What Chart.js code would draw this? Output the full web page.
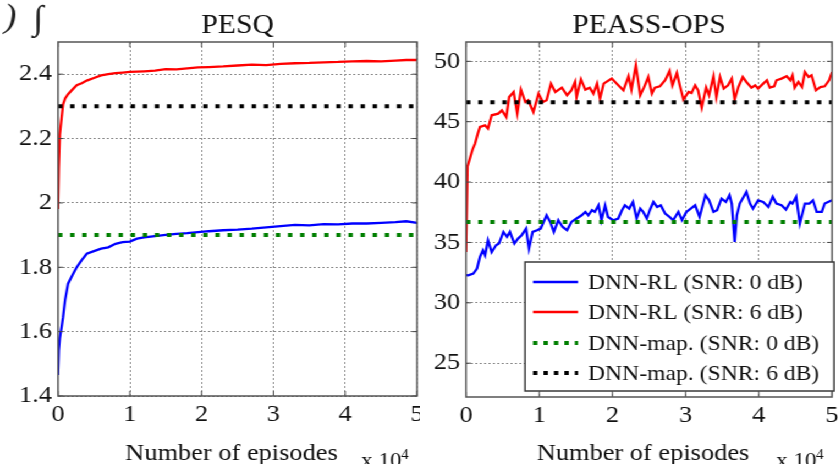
<!DOCTYPE html>
<html>
<head>
<meta charset="utf-8">
<script src="https://cdn.jsdelivr.net/npm/chart.js@4.4.1/dist/chart.umd.min.js"></script>
<style>
  html, body { margin: 0; padding: 0; background: #fff; overflow: hidden; }
  /* the source figure is slightly stretched horizontally, so the whole stage is too */
  #stage { position: absolute; left: 0; top: 0; width: 762px; height: 464px;
           transform: scaleX(1.1); transform-origin: 0 0; }
  #stage canvas { position: absolute; top: 0; }
</style>
</head>
<body>
<div id="stage">
  <canvas id="pesqChart" width="382" height="464" style="left:0px"></canvas>
  <canvas id="peassChart" width="380" height="464" style="left:382px"></canvas>
</div>

<script>
// ── Data (episodes in units of 10^4) ─────────────────────────────
const seriesNames = [
  "DNN-RL (SNR: 0 dB)",
  "DNN-RL (SNR: 6 dB)",
  "DNN-map. (SNR: 0 dB)",
  "DNN-map. (SNR: 6 dB)"
];

const xTicks = [0, 1, 2, 3, 4, 5];

// PESQ panel
const pesqTicks      = [1.4, 1.6, 1.8, 2.0, 2.2, 2.4];
const pesqTickLabels = ["1.4", "1.6", "1.8", "2", "2.2", "2.4"];
const pesqEpisodes = [0, 0.01, 0.025, 0.05, 0.07, 0.1, 0.14, 0.2, 0.26, 0.33, 0.4, 0.5, 0.6, 0.7,
  0.8, 0.9, 1.0, 1.1, 1.2, 1.35, 1.5, 1.65, 1.8, 1.95, 2.1, 2.3, 2.5, 2.7, 2.9, 3.1, 3.3, 3.5,
  3.7, 3.9, 4.1, 4.3, 4.5, 4.7, 4.85, 5.0];
const pesqRl0 = [1.465, 1.542, 1.58, 1.615, 1.645, 1.70, 1.749, 1.775, 1.80, 1.822, 1.842, 1.850,
  1.858, 1.862, 1.873, 1.878, 1.880, 1.889, 1.893, 1.897, 1.901, 1.904, 1.906, 1.909, 1.912,
  1.915, 1.917, 1.920, 1.924, 1.928, 1.932, 1.930, 1.934, 1.933, 1.936, 1.936, 1.938, 1.940,
  1.943, 1.938];
const pesqRl6 = [1.981, 2.11, 2.213, 2.265, 2.306, 2.325, 2.338, 2.352, 2.366, 2.372, 2.380, 2.388,
  2.396, 2.400, 2.403, 2.405, 2.407, 2.408, 2.409, 2.411, 2.416, 2.415, 2.418, 2.421, 2.422,
  2.424, 2.427, 2.430, 2.428, 2.432, 2.434, 2.435, 2.437, 2.438, 2.440, 2.441, 2.440, 2.442,
  2.444, 2.444];
const pesqMap = [1.9, 2.3];          // 0 dB, 6 dB
const pesqRange = [1.4, 2.5];

// PEASS-OPS panel
const peassTicks      = [25, 30, 35, 40, 45, 50];
const peassTickLabels = ["25", "30", "35", "40", "45", "50"];
const peassRl0X = [0, 0.03, 0.10, 0.15, 0.19, 0.23, 0.26, 0.30, 0.35, 0.41, 0.45, 0.51, 0.56, 0.60,
  0.66, 0.71, 0.76, 0.82, 0.86, 0.91, 0.97, 1.02, 1.10, 1.15, 1.20, 1.26, 1.32, 1.38, 1.44, 1.51,
  1.58, 1.63, 1.67, 1.72, 1.76, 1.81, 1.85, 1.90, 1.94, 2.01, 2.08, 2.13, 2.17, 2.23, 2.28, 2.33,
  2.38, 2.42, 2.47, 2.51, 2.56, 2.61, 2.66, 2.72, 2.78, 2.83, 2.90, 2.95, 3.01, 3.07, 3.13, 3.19,
  3.27, 3.32, 3.38, 3.43, 3.49, 3.55, 3.60, 3.63, 3.67, 3.70, 3.74, 3.83, 3.88, 3.92, 3.99, 4.06,
  4.13, 4.19, 4.24, 4.31, 4.37, 4.43, 4.46, 4.51, 4.56, 4.63, 4.69, 4.74, 4.79, 4.86, 4.90, 5.0];
const peassRl0 = [32.3, 32.28, 32.42, 32.84, 33.8, 34.35, 33.94, 35.18, 34.21, 34.77, 34.91, 35.87,
  35.46, 35.87, 34.91, 35.32, 35.6, 36.15, 34.49, 35.87, 36.01, 36.15, 37.25, 36.7, 35.87, 36.84,
  36.28, 36.01, 36.7, 36.98, 37.25, 37.53, 37.25, 37.67, 37.53, 38.08, 36.84, 38.08, 37.11, 36.84,
  36.98, 37.67, 38.08, 37.8, 38.35, 36.98, 37.8, 37.53, 36.98, 37.67, 38.35, 37.94, 38.08, 37.39,
  37.11, 36.84, 37.53, 36.84, 37.53, 37.8, 38.08, 37.11, 38.91, 38.49, 37.53, 37.67, 38.63, 38.35,
  38.91, 38.22, 35.04, 37.25, 38.22, 39.18, 38.22, 37.8, 38.49, 38.35, 37.94, 38.77, 38.22, 38.08,
  37.73, 38.35, 38.22, 38.77, 36.57, 38.22, 38.22, 38.49, 37.53, 37.53, 38.22, 38.49];
const peassRl6X = [0, 0.02, 0.09, 0.123, 0.16, 0.19, 0.26, 0.30, 0.35, 0.44, 0.49, 0.55, 0.59, 0.65,
  0.70, 0.75, 0.81, 0.85, 0.92, 0.99, 1.05, 1.10, 1.16, 1.22, 1.31, 1.38, 1.44, 1.49, 1.51, 1.57,
  1.63, 1.69, 1.74, 1.79, 1.83, 1.88, 1.99, 2.06, 2.15, 2.22, 2.26, 2.32, 2.38, 2.43, 2.49, 2.54,
  2.58, 2.65, 2.72, 2.78, 2.82, 2.88, 2.92, 2.97, 3.04, 3.08, 3.13, 3.17, 3.22, 3.28, 3.32, 3.38,
  3.42, 3.47, 3.52, 3.58, 3.63, 3.67, 3.72, 3.78, 3.83, 3.90, 3.95, 3.99, 4.06, 4.11, 4.15, 4.21,
  4.24, 4.31, 4.38, 4.43, 4.46, 4.49, 4.54, 4.59, 4.63, 4.68, 4.72, 4.78, 4.84, 4.90, 4.96, 5.0];
const peassRl6 = [34.2, 41.3, 42.7, 43.19, 44.0, 44.56, 44.7, 44.43, 45.53, 45.67, 45.94, 45.39,
  47.04, 47.46, 45.67, 47.66, 46.63, 46.77, 45.8, 47.33, 46.63, 46.77, 48.15, 47.46, 47.82, 47.19,
  47.6, 48.29, 47.04, 48.51, 47.66, 47.82, 47.33, 48.15, 46.91, 48.15, 48.57, 48.15, 47.6, 48.76,
  47.66, 49.67, 47.19, 47.82, 48.7, 47.33, 47.82, 47.93, 48.43, 49.2, 48.01, 49.03, 48.01, 46.83,
  47.46, 47.38, 48.01, 47.6, 46.17, 47.82, 47.19, 48.76, 47.04, 48.7, 47.74, 48.01, 48.57, 46.83,
  47.87, 48.7, 48.29, 47.82, 48.01, 47.74, 48.15, 48.43, 47.82, 47.93, 48.43, 48.57, 48.76, 48.43,
  48.84, 47.82, 48.29, 47.87, 49.11, 48.7, 48.84, 47.6, 47.87, 47.93, 48.43, 49.11];
const peassMap = [36.7, 46.6];
const peassRange = [22.2, 51.6];


// ── Layout helpers ───────────────────────────────────────────────
const SX = 1.1;                       // matches #stage scaleX
const SERIF = "'Liberation Serif', 'Times New Roman', serif";
const INK = "#111";
const H = 464;

const pts = (xs, ys) => xs.map((x, i) => ({ x, y: ys[i] }));
const flat = v => [{ x: xTicks[0], y: v }, { x: xTicks[xTicks.length - 1], y: v }];

function lineSet(label, data, color) {
  return { label, data, borderColor: color, borderWidth: 2.3, pointRadius: 0, tension: 0, order: 1 };
}
function dotSet(label, data, color) {
  return { label, data, borderColor: color, borderWidth: 4, borderDash: [4, 7],
           borderCapStyle: "butt", pointRadius: 0, order: 0 };
}


// ── One panel ────────────────────────────────────────────────────
// box: plot frame in picture pixels; offset: canvas left in stage units
function makePanel(id, offset, width, box, title, yRange, yTicks, yLabels, datasets, withLegend) {
  const cx = px => px / SX - offset;

  const decor = {
    id: "decor-" + id,
    afterDraw(chart) {
      const { ctx, chartArea: a, scales } = chart;
      ctx.save();

      // MATLAB style inward ticks
      ctx.strokeStyle = "#444"; ctx.lineWidth = 1; ctx.setLineDash([]);
      ctx.beginPath();
      xTicks.forEach(v => {
        const x = scales.x.getPixelForValue(v);
        ctx.moveTo(x, a.bottom); ctx.lineTo(x, a.bottom - 5);
        ctx.moveTo(x, a.top);    ctx.lineTo(x, a.top + 5);
      });
      yTicks.forEach(v => {
        const y = scales.y.getPixelForValue(v);
        ctx.moveTo(a.left, y);  ctx.lineTo(a.left + 4.5, y);
        ctx.moveTo(a.right, y); ctx.lineTo(a.right - 4.5, y);
      });
      ctx.stroke();

      // frame
      ctx.strokeStyle = "#555"; ctx.lineWidth = 1.5;
      ctx.strokeRect(a.left, a.top, a.right - a.left, a.bottom - a.top);

      // texts
      const mid = (box.l + box.r) / 2;
      ctx.fillStyle = INK;
      ctx.textBaseline = "alphabetic";
      ctx.textAlign = "center";
      ctx.font = `27px ${SERIF}`;
      ctx.fillText(title, cx(mid), 33);
      ctx.font = `24px ${SERIF}`;
      ctx.fillText("Number of episodes", cx(mid - 6), 460);
      ctx.textAlign = "left";
      ctx.font = `21px ${SERIF}`;
      ctx.fillText("x 10", cx(box.r - 56), 467);
      ctx.font = `14px ${SERIF}`;
      ctx.fillText("4", cx(box.r - 16), 459);

      if (withLegend) drawLegend(chart, cx);
      if (id === "pesqChart") {
        ctx.font = `italic 34px ${SERIF}`;
        ctx.fillStyle = "#222";
        ctx.fillText(")", cx(4), 27);
        ctx.fillText("\u222B", cx(33), 29);
      }
      ctx.restore();
    }
  };

  new Chart(document.getElementById(id), {
    type: "line",
    data: { datasets },
    options: {
      responsive: false, animation: false, devicePixelRatio: 1,
      layout: { padding: { left: 0, right: width - cx(box.r), top: box.t, bottom: 0 } },
      plugins: { legend: { display: false }, title: { display: false }, tooltip: { enabled: false } },
      scales: {
        x: {
          type: "linear", min: xTicks[0], max: xTicks[xTicks.length - 1],
          afterBuildTicks: s => { s.ticks = xTicks.map(v => ({ value: v })); },
          afterFit: s => { s.height = H - box.b; s.paddingLeft = 0; s.paddingRight = 0; },
          grid: { color: "#8c8c8c", lineWidth: 1, drawTicks: false, tickLength: 0 },
          border: { display: false, dash: [2, 2] },
          ticks: { padding: 4, color: INK, maxRotation: 0, autoSkip: false,
                   font: { family: SERIF, size: 24 }, callback: v => String(v) }
        },
        y: {
          type: "linear", min: yRange[0], max: yRange[1],
          afterBuildTicks: s => { s.ticks = yTicks.map(v => ({ value: v })); },
          afterFit: s => { s.width = cx(box.l); s.paddingTop = 0; s.paddingBottom = 0; },
          grid: { color: "#8c8c8c", lineWidth: 1, drawTicks: false, tickLength: 0 },
          border: { display: false, dash: [2, 2] },
          ticks: { padding: 5.5, color: INK, autoSkip: false,
                   font: { family: SERIF, size: 24 }, callback: (v, i) => yLabels[i] }
        }
      }
    },
    plugins: [decor]
  });
}


// ── Legend box (inside the PEASS-OPS panel) ──────────────────────
function drawLegend(chart, cx) {
  const { ctx } = chart;
  const left = cx(525), right = cx(834), top = 262, bottom = 391;
  const rows = [282, 312, 343, 373];

  ctx.setLineDash([]);
  ctx.fillStyle = "#fff";
  ctx.fillRect(left, top, right - left, bottom - top);
  ctx.strokeStyle = "#3a3a3a"; ctx.lineWidth = 1.5;
  ctx.strokeRect(left, top, right - left, bottom - top);

  ctx.font = `21.5px ${SERIF}`;
  ctx.textAlign = "left"; ctx.textBaseline = "middle";
  seriesNames.forEach((name, i) => {
    const ds = chart.data.datasets.find(d => d.label === name);
    const y = rows[i];
    ctx.strokeStyle = ds.borderColor;
    ctx.lineWidth = ds.borderWidth;
    ctx.lineCap = "butt";
    ctx.setLineDash(ds.borderDash ? [4, 5.5] : []);
    ctx.beginPath(); ctx.moveTo(cx(533), y); ctx.lineTo(cx(578), y); ctx.stroke();
    ctx.fillStyle = INK;
    ctx.fillText(name, cx(588), y + 1);
  });
  ctx.setLineDash([]);
}


// ── Build both panels ────────────────────────────────────────────
makePanel("pesqChart", 0, 382, { l: 58, r: 417, t: 42, b: 396 }, "PESQ",
  pesqRange, pesqTicks, pesqTickLabels, [
    lineSet(seriesNames[0], pts(pesqEpisodes, pesqRl0), "#0000ff"),
    lineSet(seriesNames[1], pts(pesqEpisodes, pesqRl6), "#ff0000"),
    dotSet(seriesNames[2], flat(pesqMap[0]), "#007f00"),
    dotSet(seriesNames[3], flat(pesqMap[1]), "#000000")
  ], false);

makePanel("peassChart", 382, 380, { l: 466, r: 832, t: 42, b: 397 }, "PEASS-OPS",
  peassRange, peassTicks, peassTickLabels, [
    lineSet(seriesNames[0], pts(peassRl0X, peassRl0), "#0000ff"),
    lineSet(seriesNames[1], pts(peassRl6X, peassRl6), "#ff0000"),
    dotSet(seriesNames[2], flat(peassMap[0]), "#007f00"),
    dotSet(seriesNames[3], flat(peassMap[1]), "#000000")
  ], true);
</script>
</body>
</html>
